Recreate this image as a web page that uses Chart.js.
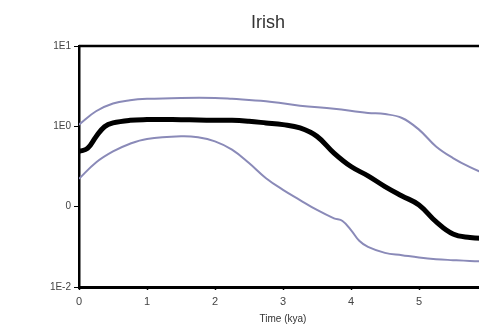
<!DOCTYPE html>
<html>
<head>
<meta charset="utf-8">
<script src="https://cdn.jsdelivr.net/npm/chart.js@4"></script>
<style>
html,body{margin:0;padding:0;overflow:hidden;background:#fff;width:479px;height:327px;}
#wrap{width:489px;height:327px;}
</style>
</head>
<body>
<div id="wrap"><canvas id="c" width="489" height="327"></canvas></div>
<script>
const chartTitle = "Irish";
const xAxisTitle = "Time (kya)";
const yTickValues = [0.01, 0.1, 1, 10];
const yTickLabels = ["1E-2", "0", "1E0", "1E1"];
const xTickValues = [0, 1, 2, 3, 4, 5];

const medianX = [0, 0.125, 0.25, 0.375, 0.5, 0.75, 1, 1.25, 1.5, 1.75, 2, 2.25, 2.5, 2.75, 3, 3.25, 3.5, 3.75, 4, 4.25, 4.5, 4.75, 5, 5.25, 5.5, 5.75, 6];
const medianY = [0.487, 0.53, 0.743, 0.99, 1.103, 1.189, 1.213, 1.213, 1.21, 1.2, 1.19, 1.189, 1.155, 1.103, 1.05, 0.955, 0.75, 0.465, 0.316, 0.242, 0.178, 0.136, 0.105, 0.065, 0.0456, 0.0414, 0.040];

const upperX = [0, 0.25, 0.5, 0.75, 1, 1.5, 2, 2.25, 2.75, 3.25, 3.75, 4.25, 4.5, 4.75, 5, 5.25, 5.5, 5.75, 6];
const upperY = [1.05, 1.54, 1.92, 2.11, 2.2, 2.26, 2.26, 2.2, 2.05, 1.81, 1.65, 1.47, 1.42, 1.27, 0.91, 0.562, 0.403, 0.31, 0.25];

const lowerX = [0, 0.25, 0.5, 0.75, 1, 1.5, 1.75, 2, 2.25, 2.5, 2.75, 3, 3.25, 3.5, 3.75, 3.875, 4, 4.125, 4.25, 4.5, 4.75, 5, 5.25, 5.5, 5.75, 6];
const lowerY = [0.222, 0.355, 0.487, 0.608, 0.696, 0.75, 0.729, 0.65, 0.512, 0.349, 0.226, 0.162, 0.121, 0.091, 0.0716, 0.0663, 0.0512, 0.0373, 0.0316, 0.0266, 0.0249, 0.0233, 0.0222, 0.0216, 0.0211, 0.0208];

const toPts = (xs, ys) => xs.map((x, i) => ({x: x, y: ys[i]}));

const FONT = "'Liberation Sans', Arial, sans-serif";

const frame = {
  id: 'frame',
  afterDraw(chart) {
    const {ctx, chartArea} = chart;
    ctx.save();
    ctx.strokeStyle = '#000';
    ctx.lineWidth = 2.5;
    ctx.beginPath();
    ctx.moveTo(chartArea.left, chartArea.top);
    ctx.lineTo(chartArea.right, chartArea.top);
    ctx.stroke();
    ctx.fillStyle = '#333';
    ctx.font = "18px " + FONT;
    ctx.textAlign = 'center';
    ctx.textBaseline = 'middle';
    ctx.fillText(chartTitle, 268, 23);
    ctx.restore();
  }
};

new Chart(document.getElementById('c'), {
  type: 'line',
  data: {
    datasets: [
      {data: toPts(medianX, medianY), borderColor: '#000', borderWidth: 5, pointRadius: 0, tension: 0.4, order: 0},
      {data: toPts(upperX, upperY), borderColor: '#8a8ab8', borderWidth: 2, pointRadius: 0, tension: 0.4, order: 1},
      {data: toPts(lowerX, lowerY), borderColor: '#8a8ab8', borderWidth: 2, pointRadius: 0, tension: 0.4, order: 1}
    ]
  },
  options: {
    responsive: false,
    animation: false,
    events: [],
    layout: {padding: {top: 46, right: 2, left: 0, bottom: 0}},
    plugins: {legend: {display: false}, title: {display: false}, tooltip: {enabled: false}},
    scales: {
      x: {
        type: 'linear', min: 0, max: 6,
        afterBuildTicks: s => { s.ticks = xTickValues.map(v => ({value: v})); },
        afterFit: s => { s.height = 40; },
        grid: {display: true, drawOnChartArea: false, tickLength: 3, tickColor: '#000', tickWidth: 1.5},
        border: {display: true, color: '#000', width: 3},
        ticks: {color: '#444', font: {family: FONT, size: 11}, padding: 5, maxRotation: 0, autoSkip: false},
        title: {display: true, text: xAxisTitle, color: '#333', font: {family: FONT, size: 10}, padding: {top: 0, bottom: 2}}
      },
      y: {
        type: 'logarithmic', min: 0.01, max: 10,
        afterBuildTicks: s => { s.ticks = yTickValues.map(v => ({value: v})); },
        afterFit: s => { s.width = 79; },
        grid: {display: true, drawOnChartArea: false, tickLength: 5, tickColor: '#000', tickWidth: 1},
        border: {display: true, color: '#000', width: 2.5},
        ticks: {
          color: '#444', font: {family: FONT, size: 10}, padding: 3, autoSkip: false,
          callback: v => { const i = yTickValues.indexOf(v); return i >= 0 ? yTickLabels[i] : ''; }
        }
      }
    }
  },
  plugins: [frame]
});
</script>
</body>
</html>
